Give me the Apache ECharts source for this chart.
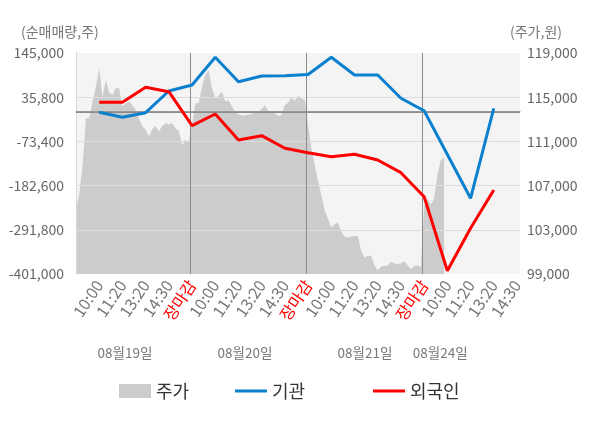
<!doctype html>
<html>
<head>
<meta charset="utf-8">
<title>순매매량 / 주가</title>
<script src="https://cdn.jsdelivr.net/npm/echarts@6/dist/echarts.min.js"></script>
<style>
  html, body { margin: 0; padding: 0; background: #fff; }
  #main { width: 600px; height: 428px; }
</style>
</head>
<body>
<div id="main"></div>
<script>
var FONT = '"Noto Sans CJK KR", "Noto Sans", sans-serif';

// x slots: 0 = open, then one slot per label
var timeLabels = ['', '10:00', '11:20', '13:20', '14:30', '장마감',
  '10:00', '11:20', '13:20', '14:30', '장마감',
  '10:00', '11:20', '13:20', '14:30', '장마감',
  '10:00', '11:20', '13:20', '14:30'];
var dayLabels = ['08월19일', '08월20일', '08월21일', '08월24일'];
var todaySlot = 16;

// net buying (shares), slots 1..18
var institution = [-1500, -13900, -2500, 51100, 65900, 134400, 74100, 88200, 88900,
  91900, 134400, 90600, 90600, 33100, 2400, -105800, -214000, 8400];
var foreign = [23200, 23200, 60300, 49400, -34600, -5700, -69900, -59300, -90400,
  -101300, -111200, -105300, -119400, -150700, -210000, -392900, -288100, -193500];

// price (won), 7 ticks per slot
var price = [
  104800, 106300, 108850, 113100, 113100, 114600, 115950, 117600, 115050, 116550,
  115450, 115200, 115800, 115800, 114150, 114450, 114600, 114300, 113850, 113050,
  112400, 112050, 111450, 112100, 112400, 111900, 112400, 112650, 112550, 112650,
  112200, 111950, 110650, 111150, 110900,
  112500, 114450, 114450, 115950, 117000, 117450, 115800, 114900, 115150, 115500,
  114600, 114750, 114150, 113700, 113450, 113350, 113350, 113450, 113450, 113700,
  113700, 113900, 114300, 113750, 113700, 113550, 113300, 113400, 114300, 114500,
  115000, 114650, 115150, 114850, 114750,
  112500, 110350, 108850, 107400, 106150, 104750, 104000, 103200, 103500, 103650,
  102850, 102400, 102300, 102400, 102450, 102450, 101100, 100500, 100650, 100650,
  99800, 99350, 99650, 99750, 99750, 100100, 99950, 99900, 99950, 100150,
  99800, 99450, 99700, 99800, 99600,
  105100, 105800, 105300, 105800, 107950, 109300, 109550
];
var prevClose = 113600;

var PER_SLOT = 7;
var X_MAX = 19.13;
var dayBreaks = [4.91, 9.93, 14.93];
var dayLabelPos = [2.11, 7.28, 12.45, 15.69];

var chart = echarts.init(document.getElementById('main'));

var legendBase = {
  orient: 'horizontal',
  top: 377,
  itemWidth: 32,
  textStyle: { fontSize: 18, color: '#333', fontFamily: FONT },
  selectedMode: false
};

chart.setOption({
  animation: false,
  textStyle: { fontFamily: FONT },
  title: [
    { text: '(순매매량,주)', left: 21, top: 25, padding: 0,
      textStyle: { fontSize: 14, fontWeight: 'normal', color: '#777', fontFamily: FONT } },
    { text: '(주가,원)', right: 38, top: 25, padding: 0,
      textStyle: { fontSize: 14, fontWeight: 'normal', color: '#777', fontFamily: FONT } }
  ],
  legend: [
    Object.assign({}, legendBase, { left: 114, data: ['주가'], icon: 'rect', itemHeight: 14 }),
    Object.assign({}, legendBase, { left: 230, data: ['기관'], icon: 'rect', itemHeight: 3 }),
    Object.assign({}, legendBase, { left: 368, data: ['외국인'], icon: 'rect', itemHeight: 3 })
  ],
  grid: {
    left: 76, right: 80, top: 53, bottom: 154,
    show: true, backgroundColor: '#f4f4f4', borderWidth: 0
  },
  xAxis: [{
    type: 'value', min: 0, max: X_MAX, interval: 1, z: 3,
    axisLine: { lineStyle: { color: '#999' } },
    axisTick: { show: true, length: 5, lineStyle: { color: '#999' },
      customValues: [0].concat(dayBreaks, [X_MAX]) },
    splitLine: { show: false },
    axisLabel: {
      rotate: 56, margin: 8, fontSize: 16, fontFamily: FONT,
      showMinLabel: false, showMaxLabel: false,
      color: function (v) {
        if (timeLabels[v] === '장마감') return '#ff0000';
        if (v === todaySlot) return '#222';
        return '#777';
      },
      formatter: function (v) {
        if (Math.round(v) !== v || !timeLabels[v]) return '';
        return timeLabels[v];
      }
    }
  }, {
    type: 'value', min: 0, max: X_MAX, position: 'bottom', offset: 66,
    axisLine: { show: false }, axisTick: { show: false }, splitLine: { show: false },
    axisLabel: {
      customValues: dayLabelPos, margin: 6, fontSize: 13.5, color: '#777', fontFamily: FONT,
      formatter: function (v) {
        var k = dayLabelPos.indexOf(v);
        return k < 0 ? '' : dayLabels[k];
      }
    }
  }],
  yAxis: [{
    type: 'value', min: -401000, max: 145000, interval: 109200, z: 3,
    axisLine: { show: true, lineStyle: { color: '#999' } },
    axisTick: { show: false },
    splitLine: { show: true, showMaxLine: false, showMinLine: false, lineStyle: { color: '#dcdcdc' } },
    axisLabel: { margin: 12, fontSize: 14, color: '#666', fontFamily: FONT,
      formatter: function (v) { return echarts.format.addCommas(v); } }
  }, {
    type: 'value', min: 99000, max: 119000, interval: 4000, position: 'right', z: 3,
    axisLine: { show: true, lineStyle: { color: '#d8d8d8' } },
    axisTick: { show: false },
    splitLine: { show: false },
    axisLabel: { margin: 7, fontSize: 14, color: '#666', fontFamily: FONT,
      formatter: function (v) { return echarts.format.addCommas(v); } }
  }],
  series: [{
    name: '주가', type: 'line', xAxisIndex: 0, yAxisIndex: 1, z: 2,
    color: '#cccccc', showSymbol: false, symbol: 'none',
    lineStyle: { width: 0 },
    areaStyle: { color: '#cccccc', opacity: 1 },
    data: price.map(function (v, i) { return [i / PER_SLOT, v]; }),
    markLine: {
      silent: true, symbol: 'none', label: { show: false },
      lineStyle: { color: '#8c8c8c', width: 1, type: 'solid' },
      data: dayBreaks.map(function (b) { return { xAxis: b }; }).concat([{ yAxis: prevClose }])
    }
  }, {
    name: '기관', type: 'line', xAxisIndex: 0, yAxisIndex: 0, z: 6,
    color: '#0a80cf', showSymbol: false, symbol: 'none',
    lineStyle: { width: 3 },
    data: institution.map(function (v, i) { return [i + 1, v]; })
  }, {
    name: '외국인', type: 'line', xAxisIndex: 0, yAxisIndex: 0, z: 6,
    color: '#ff0000', showSymbol: false, symbol: 'none',
    lineStyle: { width: 3 },
    data: foreign.map(function (v, i) { return [i + 1, v]; })
  }]
});

window.addEventListener('resize', function () {
  chart.resize();
});
</script>
</body>
</html>
